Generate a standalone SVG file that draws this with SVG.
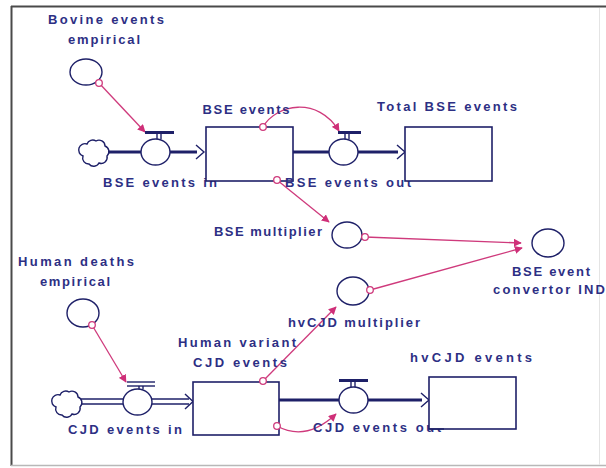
<svg xmlns="http://www.w3.org/2000/svg" width="606" height="468" viewBox="0 0 606 468">
<style>
.t{font-family:"Liberation Sans",Arial,sans-serif;font-size:13px;font-weight:bold;fill:#2d2f84}
.stock{fill:#fff;stroke:#1e2068;stroke-width:1.6}
.aux{fill:#fff;stroke:#1e2068;stroke-width:1.4}
.pipe{stroke:#1e2068;stroke-width:3;fill:none}
.thin{stroke:#1e2068;stroke-width:1.4;fill:none}
.conn{stroke:#cf3a7c;stroke-width:1.3;fill:none}
.dot{fill:#fff;stroke:#cf3a7c;stroke-width:1.3}
</style>
<defs>
<marker id="ah" viewBox="0 0 10 10" refX="9" refY="5" markerWidth="8" markerHeight="8" markerUnits="userSpaceOnUse" orient="auto">
<path d="M0,0 L10,5 L0,10 z" fill="#cf2f78"/>
</marker>
<path id="cloud" d="M-8,-8 a6,6 0 0 1 9,-3 a6,6 0 0 1 9,5 a6,6 0 0 1 2,10 a6,6 0 0 1 -8,7 a6,6 0 0 1 -10,1 a6,6 0 0 1 -6,-8 a6,6 0 0 1 4,-12 z" fill="#fff" stroke="#1e2068" stroke-width="1.4"/>
</defs>
<rect width="606" height="468" fill="#fff"/>
<g id="frame">
<line x1="11" y1="6.5" x2="606" y2="6.5" stroke="#4a4a4a" stroke-width="2"/>
<line x1="11.5" y1="6" x2="11.5" y2="466" stroke="#4a4a4a" stroke-width="2"/>
<line x1="11" y1="465.5" x2="606" y2="465.5" stroke="#b8b8b8" stroke-width="1.5"/>
<line x1="599.5" y1="8" x2="599.5" y2="465" stroke="#e4e4e4" stroke-width="1"/>
</g>
<g id="connectors">
<path class="conn" d="M99,83 L145,132" marker-end="url(#ah)"/>
<path class="conn" d="M263,127 C276,104 318,96 339,131" marker-end="url(#ah)"/>
<path class="conn" d="M277,180 L329,222" marker-end="url(#ah)"/>
<path class="conn" d="M365,237 L521,243" marker-end="url(#ah)"/>
<path class="conn" d="M370,290 L522,248" marker-end="url(#ah)"/>
<path class="conn" d="M92,325 L126,382" marker-end="url(#ah)"/>
<path class="conn" d="M263,381 L336,307" marker-end="url(#ah)"/>
<path class="conn" d="M277,426 Q306,442 336,414" marker-end="url(#ah)"/>
</g>
<g id="bovine-events-empirical">
<ellipse class="aux" cx="86" cy="72" rx="16" ry="13"/>
<text class="t" x="106" y="24" text-anchor="middle" textLength="116" lengthAdjust="spacing">Bovine events</text>
<text class="t" x="104" y="44" text-anchor="middle" textLength="72" lengthAdjust="spacing">empirical</text>
</g>
<g id="bse-events-in">
<use href="#cloud" x="95" y="152"/>
<line class="pipe" x1="108" y1="152" x2="141" y2="152"/>
<line class="pipe" x1="170" y1="152" x2="197" y2="152"/>
<path class="thin" d="M196,145 L204,152 L196,159" stroke-width="1.8"/>
<ellipse class="aux" cx="155.5" cy="152" rx="14.5" ry="13"/>
<line x1="145" y1="132.5" x2="174" y2="132.5" stroke="#1e2068" stroke-width="3"/>
<line class="thin" x1="157" y1="133" x2="157" y2="139"/>
<line class="thin" x1="161" y1="133" x2="161" y2="139"/>
<text class="t" x="160" y="187" text-anchor="middle" textLength="114" lengthAdjust="spacing">BSE events in</text>
</g>
<g id="bse-events">
<rect class="stock" x="206" y="127" width="87" height="54"/>
<text class="t" x="246" y="114" text-anchor="middle" textLength="87" lengthAdjust="spacing">BSE events</text>
</g>
<g id="bse-events-out">
<line class="pipe" x1="293" y1="152" x2="329" y2="152"/>
<line class="pipe" x1="358" y1="152" x2="398" y2="152"/>
<path class="thin" d="M397,145 L405,152 L397,159" stroke-width="1.8"/>
<ellipse class="aux" cx="343.5" cy="152" rx="14.5" ry="13"/>
<line x1="338" y1="132.5" x2="361" y2="132.5" stroke="#1e2068" stroke-width="3"/>
<line class="thin" x1="345" y1="133" x2="345" y2="139"/>
<line class="thin" x1="349" y1="133" x2="349" y2="139"/>
<text class="t" x="348" y="187" text-anchor="middle" textLength="126" lengthAdjust="spacing">BSE events out</text>
</g>
<g id="total-bse-events">
<rect class="stock" x="405" y="127" width="87" height="54"/>
<text class="t" x="447" y="111" text-anchor="middle" textLength="140" lengthAdjust="spacing">Total BSE events</text>
</g>
<g id="bse-multiplier">
<ellipse class="aux" cx="347" cy="235" rx="15" ry="13"/>
<text class="t" x="268" y="236" text-anchor="middle" textLength="108" lengthAdjust="spacing">BSE multiplier</text>
</g>
<g id="bse-event-convertor-ind">
<ellipse class="aux" cx="548" cy="243" rx="16" ry="14"/>
<text class="t" x="551" y="276" text-anchor="middle" textLength="78" lengthAdjust="spacing">BSE event</text>
<text class="t" x="549" y="294" text-anchor="middle" textLength="112" lengthAdjust="spacing">convertor IND</text>
</g>
<g id="hvcjd-multiplier">
<ellipse class="aux" cx="353" cy="291" rx="16" ry="14"/>
<text class="t" x="354" y="327" text-anchor="middle" textLength="132" lengthAdjust="spacing">hvCJD multiplier</text>
</g>
<g id="human-deaths-empirical">
<ellipse class="aux" cx="83" cy="313" rx="16" ry="14"/>
<text class="t" x="76" y="266" text-anchor="middle" textLength="116" lengthAdjust="spacing">Human deaths</text>
<text class="t" x="75" y="286" text-anchor="middle" textLength="70" lengthAdjust="spacing">empirical</text>
</g>
<g id="cjd-events-in">
<use href="#cloud" x="68" y="403"/>
<line class="thin" x1="81" y1="399" x2="123" y2="399"/>
<line class="thin" x1="81" y1="404" x2="123" y2="404"/>
<line class="thin" x1="152" y1="399" x2="189" y2="399"/>
<line class="thin" x1="152" y1="404" x2="189" y2="404"/>
<path class="thin" d="M185,394 L193,401.5 L185,409" stroke-width="1.8"/>
<ellipse class="aux" cx="137.5" cy="402" rx="14.5" ry="13"/>
<line class="thin" x1="127" y1="382" x2="155" y2="382"/>
<line class="thin" x1="127" y1="386" x2="155" y2="386"/>
<line class="thin" x1="139" y1="386" x2="139" y2="389"/>
<line class="thin" x1="143" y1="386" x2="143" y2="389"/>
<text class="t" x="125" y="434" text-anchor="middle" textLength="114" lengthAdjust="spacing">CJD events in</text>
</g>
<g id="human-variant-cjd-events">
<rect class="stock" x="193" y="382" width="86" height="53"/>
<text class="t" x="237" y="347" text-anchor="middle" textLength="118" lengthAdjust="spacing">Human variant</text>
<text class="t" x="240" y="367" text-anchor="middle" textLength="94" lengthAdjust="spacing">CJD events</text>
</g>
<g id="cjd-events-out">
<line class="pipe" x1="279" y1="400" x2="339" y2="400"/>
<line class="pipe" x1="368" y1="400" x2="422" y2="400"/>
<path class="thin" d="M421,393 L429,400 L421,407" stroke-width="1.8"/>
<ellipse class="aux" cx="353.5" cy="400" rx="14.5" ry="13"/>
<line x1="339" y1="380.5" x2="368" y2="380.5" stroke="#1e2068" stroke-width="3"/>
<line class="thin" x1="351" y1="381" x2="351" y2="387"/>
<line class="thin" x1="355" y1="381" x2="355" y2="387"/>
<text class="t" x="377" y="432" text-anchor="middle" textLength="128" lengthAdjust="spacing">CJD events out</text>
</g>
<g id="hvcjd-events">
<rect class="stock" x="429" y="377" width="87" height="52"/>
<line class="thin" x1="444" y1="429" x2="429" y2="429"/>
<text class="t" x="471" y="362" text-anchor="middle" textLength="122" lengthAdjust="spacing">hvCJD events</text>
</g>
<g id="connector-dots">
<circle class="dot" cx="99" cy="83" r="3.3"/>
<circle class="dot" cx="263" cy="127" r="3.3"/>
<circle class="dot" cx="277" cy="180" r="3.3"/>
<circle class="dot" cx="365" cy="237" r="3.3"/>
<circle class="dot" cx="370" cy="290" r="3.3"/>
<circle class="dot" cx="92" cy="325" r="3.3"/>
<circle class="dot" cx="263" cy="381" r="3.3"/>
<circle class="dot" cx="277" cy="426" r="3.3"/>
</g>
</svg>
